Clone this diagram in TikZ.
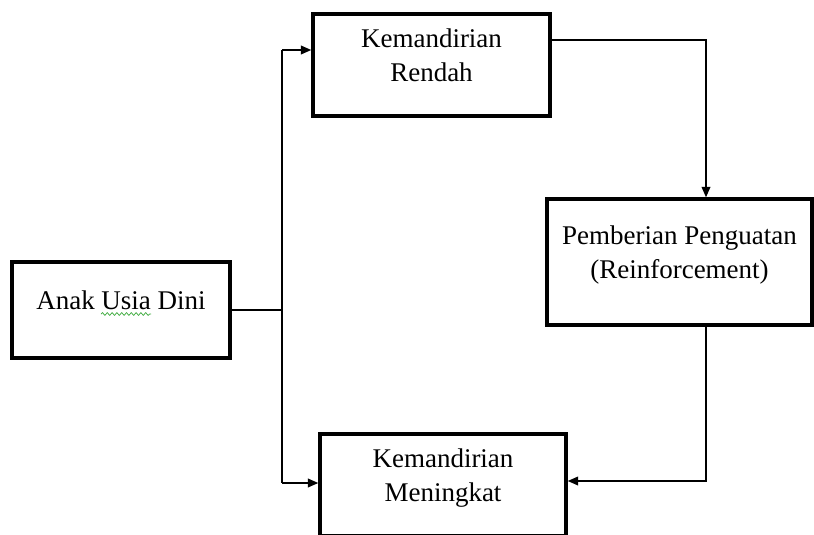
\documentclass[tikz,border=0pt]{standalone}
\usepackage{fontspec}
\setmainfont{Liberation Serif}
\usetikzlibrary{positioning,calc}
\usetikzlibrary{arrows.meta,decorations.pathmorphing}
\definecolor{SpellGreen}{RGB}{60,170,60}
\tikzset{
  box/.style={draw=black,fill=white,line width=2.5pt,align=center,
    font=\fontsize{19.2}{24.5}\selectfont,text depth=0.48cm,inner sep=0pt},
  link/.style={draw=black,line width=0.9pt},
  tip/.style={-{Triangle[length=2.6mm,width=2.2mm]}},
}
\begin{document}
\begin{tikzpicture}
\useasboundingbox (0,0) rectangle (20.35,13.35);
% boxes
\node[box,minimum width=5.45cm,minimum height=2.4cm] (anak) at (3.025,5.6) {Anak Usia Dini};
\node[box,minimum width=5.925cm,minimum height=2.55cm] (rendah) at (10.7875,11.725) {Kemandirian\\Rendah};
\node[box,minimum width=6.625cm,minimum height=3.15cm] (beri) at (16.9875,6.8) {Pemberian Penguatan\\(Reinforcement)};
\node[box,minimum width=6.15cm,minimum height=2.55cm] (naik) at (11.075,1.225) {Kemandirian\\Meningkat};
% spell check mark
\draw[SpellGreen,line width=0.5pt,decorate,decoration={snake,segment length=1.2mm,amplitude=0.35mm}]
  ($(anak.center)+(-0.5,-0.1)$) -- ($(anak.center)+(0.75,-0.1)$);
% connectors
\coordinate (sMid) at (7.05,5.6);
\coordinate (sTop) at (7.05,12.1);
\coordinate (sBot) at (7.05,1.275);
\draw[link] (anak.east) -- (sMid);
\draw[link] (sMid) -- (sTop);
\draw[link] (sMid) -- (sBot);
\draw[link,tip] (sTop) -- (rendah.west |- sTop);
\draw[link,tip] (sBot) -- (naik.west |- sBot);
\draw[link,tip] ([yshift=0.625cm]rendah.east) -| ([xshift=0.6625cm]beri.north);
\draw[link,tip] ([xshift=0.6625cm]beri.south) |- ([yshift=0.1cm]naik.east);
\end{tikzpicture}
\end{document}
